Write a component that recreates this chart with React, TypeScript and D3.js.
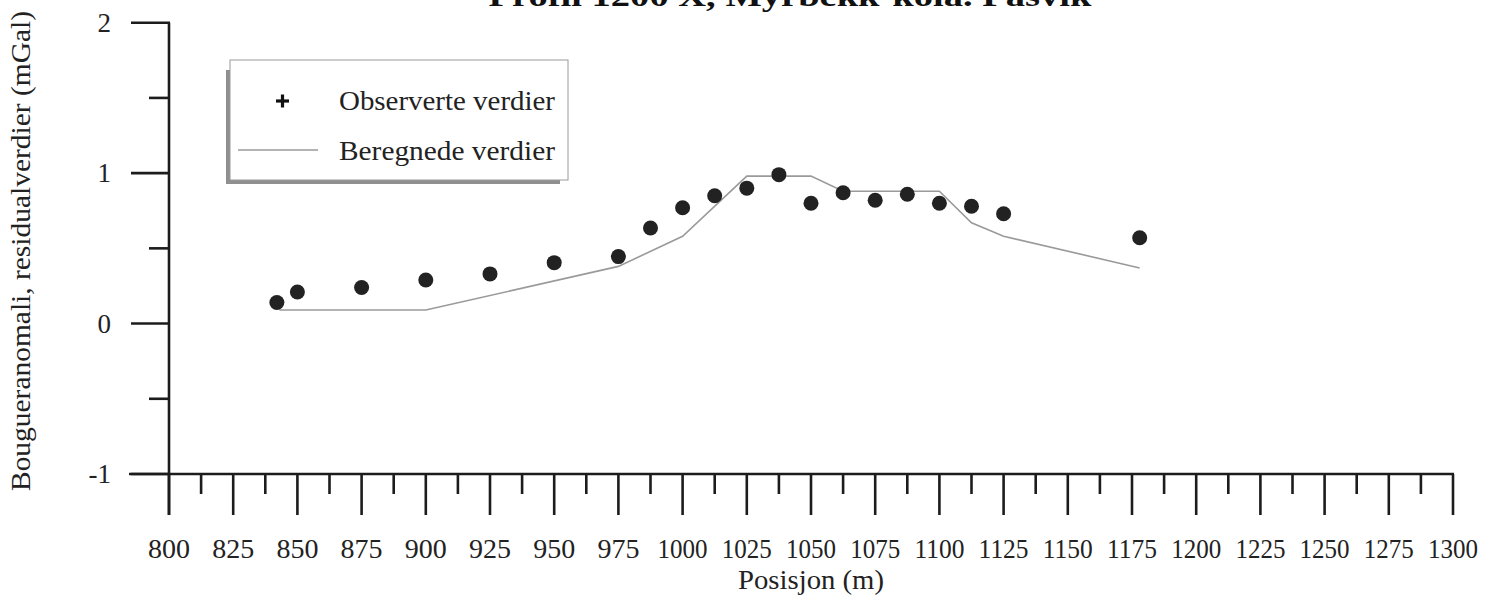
import React from "react";
import * as d3 from "d3";

// Observed Bouguer residuals along the profile
const obsPos = [842, 850, 875, 900, 925, 950, 975, 987.5, 1000, 1012.5, 1025, 1037.5, 1050, 1062.5, 1075, 1087.5, 1100, 1112.5, 1125, 1178];
const obsVal = [0.14, 0.21, 0.24, 0.29, 0.33, 0.405, 0.445, 0.635, 0.77, 0.85, 0.9, 0.99, 0.8, 0.87, 0.82, 0.86, 0.8, 0.78, 0.73, 0.57];

// Modelled (calculated) values
const calcPos = [843, 900, 975, 1000, 1025, 1050, 1062.5, 1100, 1112.5, 1125, 1178];
const calcVal = [0.09, 0.09, 0.38, 0.58, 0.98, 0.98, 0.88, 0.88, 0.67, 0.58, 0.37];

const xMajor = d3.range(800, 1301, 25);
const xMinor = d3.range(812.5, 1300, 25);
const yMajor = [-1, 0, 1, 2];
const yMinor = [-0.5, 0.5, 1.5];

const title = "Profil 1200 X, Myrbekk-kola. Pasvik";
const xTitle = "Posisjon (m)";
const yTitle = "Bougueranomali, residualverdier (mGal)";
const legendObs = "Observerte verdier";
const legendCalc = "Beregnede verdier";

export default function App() {
  const W = 1491;
  const H = 600;
  const x = d3.scaleLinear().domain([800, 1300]).range([169, 1453]);
  const y = d3.scaleLinear().domain([-1, 2]).range([474, 22.7]);
  const axisColor = "#1c1c1c";
  const font = "Liberation Serif, Times New Roman, Times, serif";

  const line = d3
    .line<number>()
    .x((_, i) => x(calcPos[i]))
    .y((d) => y(d));

  const axisBottom = y(-1);
  const majorLen = 41;
  const minorLen = 20;

  return (
    <svg width={W} height={H} style={{ position: "absolute", left: 0, top: 0, background: "#fff" }}>
      <rect x={0} y={0} width={W} height={H} fill="#fff" />
      {/* title, partly clipped at the top edge */}
      <text
        x={790}
        y={6}
        textAnchor="middle"
        fontFamily={font}
        fontWeight="bold"
        fontSize={30}
        textLength={603}
        lengthAdjust="spacingAndGlyphs"
        fill="#111"
      >
        {title}
      </text>

      {/* y axis */}
      <line x1={x(800)} x2={x(800)} y1={y(2)} y2={axisBottom + majorLen} stroke={axisColor} strokeWidth={2.6} />
      {yMajor.map((v) => (
        <line key={"ym" + v} x1={x(800) - 38} x2={x(800) + 1} y1={y(v)} y2={y(v)} stroke={axisColor} strokeWidth={2.6} />
      ))}
      {yMinor.map((v) => (
        <line key={"yn" + v} x1={x(800) - 20} x2={x(800)} y1={y(v)} y2={y(v)} stroke={axisColor} strokeWidth={2.6} />
      ))}
      {yMajor.map((v) => (
        <text
          key={"yl" + v}
          x={111}
          y={y(v) + 9}
          textAnchor="end"
          fontFamily={font}
          fontSize={27}
          fill="#222"
        >
          {v}
        </text>
      ))}

      {/* x axis */}
      <line x1={x(800) - 40} x2={x(1300) + 1} y1={axisBottom} y2={axisBottom} stroke={axisColor} strokeWidth={2.6} />
      {xMajor.map((v) => (
        <line key={"xm" + v} x1={x(v)} x2={x(v)} y1={axisBottom} y2={axisBottom + majorLen} stroke={axisColor} strokeWidth={2.6} />
      ))}
      {xMinor.map((v) => (
        <line key={"xn" + v} x1={x(v)} x2={x(v)} y1={axisBottom} y2={axisBottom + minorLen} stroke={axisColor} strokeWidth={2.6} />
      ))}
      {xMajor.map((v) => (
        <text
          key={"xl" + v}
          x={x(v)}
          y={558}
          textAnchor="middle"
          fontFamily={font}
          fontSize={28}
          fill="#222"
          textLength={v >= 1000 ? 50 : 42}
          lengthAdjust="spacingAndGlyphs"
        >
          {v}
        </text>
      ))}
      <text
        x={811}
        y={589}
        textAnchor="middle"
        fontFamily={font}
        fontSize={28}
        fill="#222"
        textLength={146}
        lengthAdjust="spacingAndGlyphs"
      >
        {xTitle}
      </text>
      <text
        transform={`translate(30, 251) rotate(-90)`}
        textAnchor="middle"
        fontFamily={font}
        fontSize={28}
        fill="#222"
        textLength={480}
        lengthAdjust="spacingAndGlyphs"
      >
        {yTitle}
      </text>

      {/* calculated curve */}
      <path d={line(calcVal) ?? ""} fill="none" stroke="#9a9a9a" strokeWidth={1.6} />

      {/* observed points */}
      {obsVal.map((v, i) => (
        <circle key={"p" + i} cx={x(obsPos[i])} cy={y(v)} r={7.5} fill="#222" />
      ))}

      {/* legend */}
      <rect x={226} y={70} width={334} height={114} fill="#8f8f8f" />
      <rect x={230} y={60} width={338} height={120} fill="#fff" stroke="#9a9a9a" strokeWidth={1} />
      <g stroke="#111" strokeWidth={3.2}>
        <line x1={276} x2={289} y1={101} y2={101} />
        <line x1={282.5} x2={282.5} y1={94.5} y2={107.5} />
      </g>
      <text x={339} y={110} fontFamily={font} fontSize={28} fill="#222" textLength={216} lengthAdjust="spacingAndGlyphs">
        {legendObs}
      </text>
      <line x1={238} x2={318} y1={150} y2={150} stroke="#9a9a9a" strokeWidth={1.6} />
      <text x={339} y={160} fontFamily={font} fontSize={28} fill="#222" textLength={216} lengthAdjust="spacingAndGlyphs">
        {legendCalc}
      </text>
    </svg>
  );
}
